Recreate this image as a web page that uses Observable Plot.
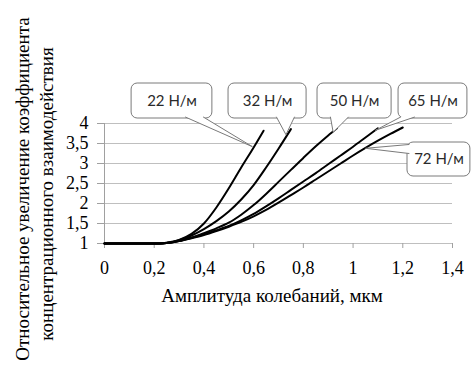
<!DOCTYPE html>
<html>
<head>
<meta charset="utf-8">
<script src="https://cdn.jsdelivr.net/npm/d3@7"></script>
<script src="https://cdn.jsdelivr.net/npm/@observablehq/plot@0.6"></script>
<style>
  html, body { margin: 0; padding: 0; background: #fff; }
  #chart { width: 473px; height: 367px; }
</style>
</head>
<body>
<div id="chart"></div>
<script>
// ---- data ----
const seriesLabels = ["22 Н/м", "32 Н/м", "50 Н/м", "65 Н/м", "72 Н/м"];

const x22 = [0, 0.22, 0.26, 0.3, 0.35, 0.4, 0.45, 0.5, 0.55, 0.6, 0.64];
const y22 = [1, 1, 1.03, 1.09, 1.24, 1.5, 1.9, 2.38, 2.9, 3.4, 3.82];

const x32 = [0, 0.22, 0.26, 0.3, 0.35, 0.4, 0.45, 0.5, 0.55, 0.6, 0.65, 0.7, 0.75];
const y32 = [1, 1, 1.02, 1.08, 1.2, 1.36, 1.56, 1.8, 2.1, 2.46, 2.9, 3.37, 3.86];

const x50 = [0, 0.22, 0.26, 0.3, 0.35, 0.4, 0.45, 0.5, 0.55, 0.6, 0.65, 0.7, 0.75, 0.8, 0.85, 0.9, 0.935];
const y50 = [1, 1, 1.02, 1.07, 1.15, 1.26, 1.38, 1.52, 1.72, 1.96, 2.24, 2.54, 2.84, 3.14, 3.43, 3.7, 3.88];

const x65 = [0, 0.22, 0.26, 0.3, 0.35, 0.4, 0.45, 0.5, 0.55, 0.6, 0.65, 0.7, 0.75, 0.8, 0.85, 0.9, 0.95, 1.0, 1.05, 1.1];
const y65 = [1, 1, 1.02, 1.06, 1.14, 1.23, 1.33, 1.44, 1.58, 1.74, 1.93, 2.13, 2.34, 2.55, 2.76, 2.98, 3.2, 3.42, 3.65, 3.88];

const x72 = [0, 0.22, 0.26, 0.3, 0.35, 0.4, 0.45, 0.5, 0.55, 0.6, 0.65, 0.7, 0.75, 0.8, 0.85, 0.9, 0.95, 1.0, 1.05, 1.1, 1.15, 1.2];
const y72 = [1, 1, 1.02, 1.06, 1.13, 1.21, 1.31, 1.42, 1.54, 1.68, 1.84, 2.02, 2.21, 2.4, 2.6, 2.8, 3.0, 3.2, 3.39, 3.57, 3.74, 3.9];

const xTicks = [0, 0.2, 0.4, 0.6, 0.8, 1, 1.2, 1.4];
const yTicks = [1, 1.5, 2, 2.5, 3, 3.5, 4];

const xTitle = "Амплитуда колебаний, мкм";
const yTitleLines = ["Относительное увеличение коэффициента", "концентрационного взаимодействия"];

// callout annotations (data units): box extents, pointer base points and tip
const boxX1 = [0.109, 0.499, 0.857, 1.183, 1.219];
const boxX2 = [0.434, 0.813, 1.155, 1.460, 1.472];
const boxY1 = [4.125, 4.125, 4.125, 4.125, 2.675];
const boxY2 = [5.0, 5.0, 5.0, 5.0, 3.525];
const baseAx = [0.326, 0.692, 0.909, 1.191, 1.225];
const baseAy = [4.16, 4.16, 4.16, 4.16, 3.475];
const baseBx = [0.398, 0.764, 0.981, 1.247, 1.225];
const baseBy = [4.16, 4.16, 4.16, 4.16, 3.25];
const tipX = [0.595, 0.73, 0.92, 1.09, 1.05];
const tipY = [3.42, 3.72, 3.78, 3.83, 3.38];

// ---- build tables ----
const xs = [x22, x32, x50, x65, x72];
const ys = [y22, y32, y50, y65, y72];
const curves = seriesLabels.flatMap((s, i) => xs[i].map((x, j) => ({series: s, x, y: ys[i][j]})));
const boxes = seriesLabels.map((s, i) => ({label: s, x1: boxX1[i], x2: boxX2[i], y1: boxY1[i], y2: boxY2[i],
  cx: (boxX1[i] + boxX2[i]) / 2, cy: (boxY1[i] + boxY2[i]) / 2}));
const pointers = seriesLabels.flatMap((s, i) => [
  {id: s, x: baseAx[i], y: baseAy[i]},
  {id: s, x: tipX[i], y: tipY[i]},
  {id: s, x: baseBx[i], y: baseBy[i]}
]);

const fmt = d => String(d).replace(".", ",");
const serif = "'Liberation Serif', 'Times New Roman', serif";

const chart = Plot.plot({
  width: 473,
  height: 367,
  marginLeft: 104,
  marginRight: 21,
  marginTop: 123,
  marginBottom: 124,
  style: {fontFamily: serif, background: "white", overflow: "visible"},
  x: {domain: [0, 1.4]},
  y: {domain: [1, 4]},
  marks: [
    Plot.ruleY(yTicks, {stroke: "#bfbfbf", strokeWidth: 1}),
    Plot.ruleX([0], {y1: 1, y2: 4, stroke: "#a0a0a0"}),
    Plot.axisY({ticks: yTicks, tickFormat: fmt, tickSize: 7, tickPadding: 9, stroke: "#a0a0a0", fill: "#000",
      fontSize: 18, label: null}),
    Plot.axisX({ticks: xTicks, tickFormat: fmt, tickSize: 5, tickPadding: 13, stroke: "#a0a0a0", fill: "#000",
      fontSize: 18, label: null}),
    Plot.line(curves, {x: "x", y: "y", z: "series", stroke: "#000", strokeWidth: 2, curve: "monotone-x"}),
    Plot.rect(boxes, {x1: "x1", x2: "x2", y1: "y1", y2: "y2", fill: "white", stroke: "#7a7a7a", strokeWidth: 1, rx: 6}),
    Plot.line(pointers, {x: "x", y: "y", z: "id", fill: "white", stroke: "#7a7a7a", strokeWidth: 1}),
    Plot.text(boxes, {x: "cx", y: "cy", text: "label", fontFamily: "Lato, 'Open Sans', sans-serif", fontSize: 15,
      fill: "#2a2a2a", textAnchor: "middle"})
  ]
});

document.getElementById("chart").appendChild(chart);

// titles
const svg = d3.select(chart);
svg.append("text")
  .attr("x", 272).attr("y", 295)
  .attr("text-anchor", "middle").attr("dominant-baseline", "central")
  .style("font-family", serif).style("font-size", "19px").style("fill", "#000")
  .text(xTitle);
[22, 46].forEach((cx, i) => {
  svg.append("text")
    .attr("transform", `translate(${cx},${i === 0 ? 189 : 194}) rotate(-90)`)
    .attr("text-anchor", "middle").attr("dominant-baseline", "central")
    .style("font-family", serif).style("font-size", "19px").style("fill", "#000")
    .text(yTitleLines[i]);
});
</script>
</body>
</html>
